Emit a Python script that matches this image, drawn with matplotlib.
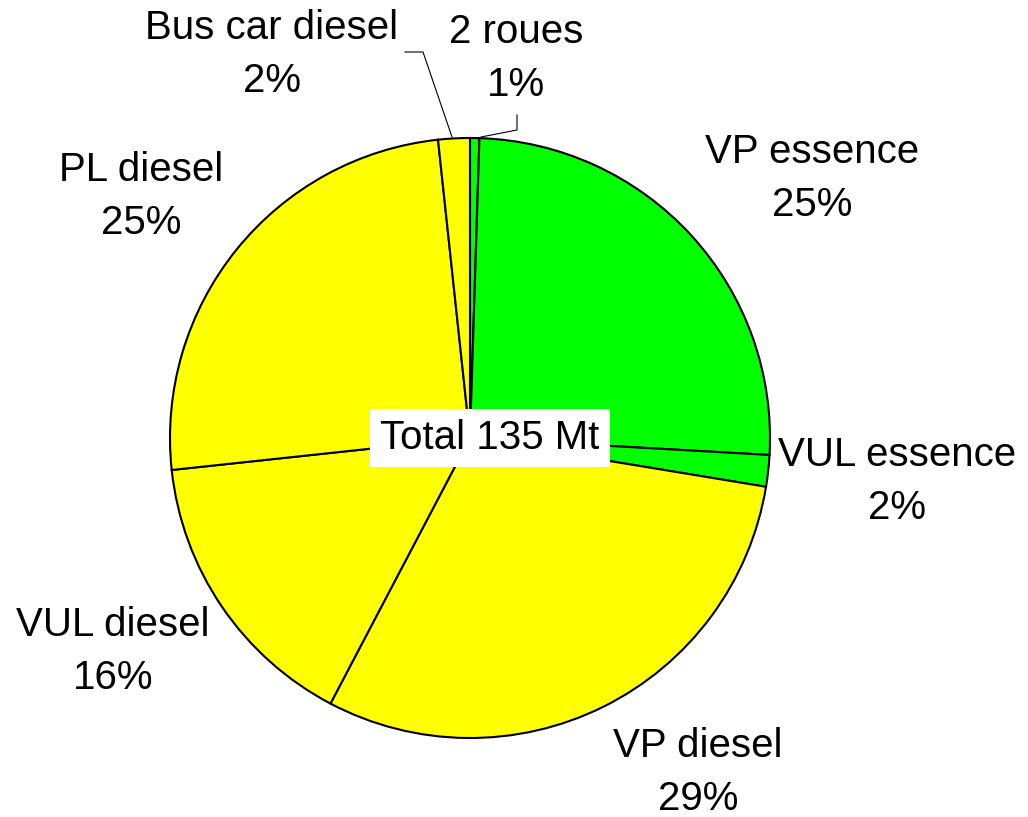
import matplotlib
matplotlib.use("Agg")
import matplotlib.pyplot as plt

# Emissions share by vehicle type (percent), clockwise from 12 o'clock
categories = ["2 roues", "VP essence", "VUL essence", "VP diesel",
              "VUL diesel", "PL diesel", "Bus car diesel"]
shares = [0.5, 25.4, 1.7, 30.1, 15.6, 25.0, 1.7]
pct_labels = ["1%", "25%", "2%", "29%", "16%", "25%", "2%"]
fuel = ["essence", "essence", "essence", "diesel", "diesel", "diesel", "diesel"]
total_label = "Total 135 Mt"

W, H = 1028, 817
colors = {"essence": "#00FF00", "diesel": "#FFFF00"}

plt.rcParams['font.family'] = ['Liberation Sans', 'DejaVu Sans']

fig = plt.figure(figsize=(W / 100, H / 100), dpi=100)
ax = fig.add_axes([0, 0, 1, 1])

cx, cy, r = 470, H - 438, 300
ax.pie(shares, colors=[colors[f] for f in fuel], startangle=90,
       counterclock=False, center=(cx, cy), radius=r,
       wedgeprops=dict(edgecolor="black", linewidth=1.5))
ax.set_xlim(0, W)
ax.set_ylim(0, H)
ax.set_aspect("equal")
ax.axis("off")

# label centres in image pixels (x, y of first line)
label_pos = {
    "2 roues": (516, 32),
    "VP essence": (812, 152),
    "VUL essence": (897, 455),
    "VP diesel": (698, 746),
    "VUL diesel": (113, 625),
    "PL diesel": (141, 170),
    "Bus car diesel": (272, 28),
}
fs = 29
for name, pct in zip(categories, pct_labels):
    x, y = label_pos[name]
    ax.text(x, H - y, name, ha="center", va="center", fontsize=fs)
    ax.text(x, H - y - 53, pct, ha="center", va="center", fontsize=fs)

# leader lines for the thin top slices
ax.plot([405, 423, 452], [H - 52, H - 52, H - 137], color="black", lw=0.8)
ax.plot([517, 517, 481], [H - 115, H - 130, H - 137], color="black", lw=0.8)

ax.text(490, H - 438, total_label, ha="center", va="center", fontsize=fs,
        bbox=dict(boxstyle="square,pad=0.25", facecolor="white", edgecolor="none"))

fig.savefig("out.png", dpi=100)
